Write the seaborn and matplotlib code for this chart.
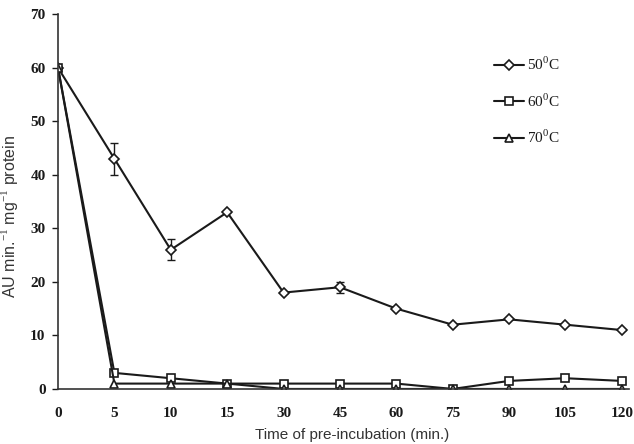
import numpy as np
import pandas as pd
import seaborn as sns
import matplotlib.pyplot as plt

# Data
times = ["0", "5", "10", "15", "30", "45", "60", "75", "90", "105", "120"]
temp_50 = [60, 43, 26, 33, 18, 19, 15, 12, 13, 12, 11]
temp_60 = [60, 3, 2, 1, 1, 1, 1, 0, 1.5, 2, 1.5]
temp_70 = [60, 1, 1, 1, 0, 0, 0, 0, 0, 0, 0]
err_50 = [0, 3, 2, 0, 0, 1, 0, 0, 0, 0, 0]
series_labels = ["50$^0$C", "60$^0$C", "70$^0$C"]

INK = "#1a1a1a"
sns.set_theme(style="white")
plt.rcParams["font.family"] = ["Liberation Serif", "DejaVu Serif"]
plt.rcParams["mathtext.fontset"] = "custom"
plt.rcParams["mathtext.rm"] = "Liberation Serif"

df = pd.DataFrame({
    "time": times * 3,
    "value": temp_50 + temp_60 + temp_70,
    "temp": np.repeat(series_labels, len(times)),
})

fig = plt.figure(figsize=(6.34, 4.44), dpi=100)
ax = fig.add_axes([0.0915, 0.124, 0.90, 0.844])

sns.pointplot(
    data=df, x="time", y="value", hue="temp",
    order=times, hue_order=series_labels,
    palette=[INK, INK, INK], markers=["D", "s", "^"],
    errorbar=None, markersize=5.5, markerfacecolor="white",
    markeredgewidth=1.2, linewidth=1.5, ax=ax,
)

# error bars for the 50 C series
ax.errorbar(
    np.arange(len(times)), temp_50, yerr=err_50, fmt="none",
    ecolor=INK, elinewidth=1, capsize=3, capthick=1, zorder=1,
)

ax.set_xlim(0, 10.12)
ax.set_ylim(0, 70)
ax.set_yticks(range(0, 71, 10))
ax.tick_params(axis="y", which="both", left=True, length=4, width=1,
               color=INK, labelsize=11, labelcolor=INK, pad=5)
ax.tick_params(axis="x", bottom=False, labelsize=11, labelcolor=INK, pad=7)
for lab in ax.get_xticklabels() + ax.get_yticklabels():
    lab.set_fontweight("bold")

sns.despine(ax=ax)
for side in ["left", "bottom"]:
    ax.spines[side].set_color("#333333")
    ax.spines[side].set_linewidth(1.2)

ax.set_xlabel("Time of pre-incubation (min.)", family=["Liberation Sans"],
              fontsize=11, color="#333333")
ax.set_ylabel("AU min.$^{-1}$ mg$^{-1}$ protein", family=["Liberation Sans"],
              fontsize=11.5, color="#333333")
ax.xaxis.set_label_coords(0.515, -0.104)
ax.yaxis.set_label_coords(-0.067, 0.46)

handles, labels = ax.get_legend_handles_labels()
for h in handles:
    h.set_markerfacecolor("white")
ax.legend(handles, labels, loc="upper left", bbox_to_anchor=(0.757, 0.905),
          bbox_transform=fig.transFigure, frameon=False, fontsize=11,
          labelspacing=1.25, handlelength=2.0, handletextpad=0.2,
          labelcolor=INK)

fig.savefig("out.png", dpi=100)
plt.close(fig)
